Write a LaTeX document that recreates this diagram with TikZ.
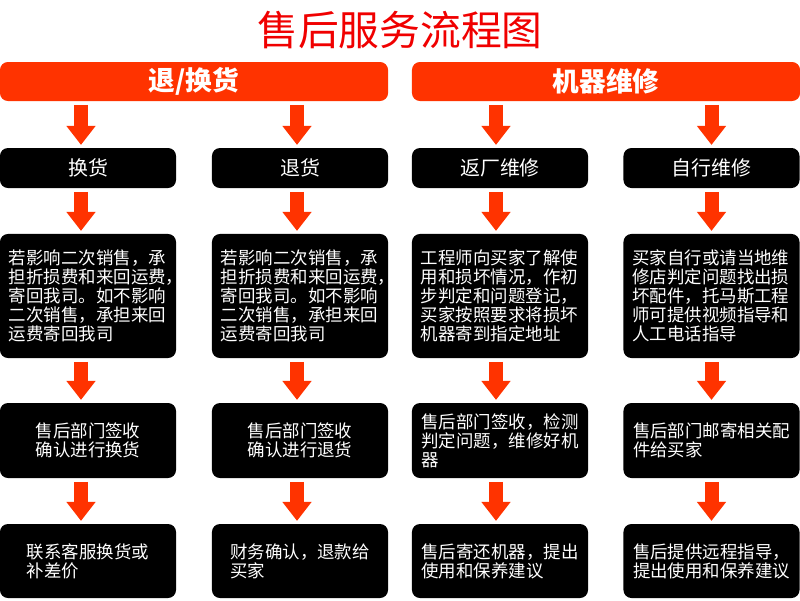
\documentclass[tikz,border=0pt]{standalone}
\usepackage{fontspec}
\setmainfont{Noto Sans CJK SC}
\usepackage{tikz}
\usetikzlibrary{arrows.meta,positioning}
\definecolor{HeadOrange}{HTML}{FF3300}
\definecolor{TitleRed}{HTML}{F00000}

\begin{document}
\begin{tikzpicture}[
  x=0.025cm, y=-0.025cm,
  % category bar (orange, bold white text)
  hdr/.style={fill=HeadOrange, text=white, minimum width=9.7cm,
              minimum height=0.975cm, rounded corners=0.2cm,
              font=\fontsize{19}{21}\selectfont\bfseries},
  % step box (black, white text)
  stepbox/.style={fill=black, text=white, minimum width=4.4cm,
                  align=left, rounded corners=0.2cm, inner sep=2pt,
                  font=\fontsize{12.4}{13.6}\selectfont},
  % long text box (fixed text width, last comma may hang)
  longbox/.style={stepbox, minimum height=3.1cm, text width=3.95cm},
  % thick block arrow
  blk/.style={draw=HeadOrange, line width=0.35cm,
              -{Triangle[width=0.7cm,length=0.475cm]},
              shorten <=0.09cm, shorten >=0.07cm},
]
\useasboundingbox (0,0) rectangle (800,600);

%% ── Column centres and row centres ──────────────────────────────────────
\def\xa{88}  \def\xb{300}  \def\xc{500}  \def\xd{711.5}
\def\yI{168} \def\yII{296} \def\yIII{440.5} \def\yIV{561}

%% ── Title and category bars ──────────────────────────────────────────────
\node[text=TitleRed, font=\fontsize{29}{31}\selectfont] (title) at (400,30) {售后服务流程图};
\node[hdr] (hdrL) at (194,81.5) {退/换货};
\node[hdr] (hdrR) at (606,81.5) {机器维修};

%% ── Row 1 ────────────────────────────────────────────────────────────────
\foreach \n/\x/\t in {a/\xa/换货, b/\xb/退货, c/\xc/返厂维修, d/\xd/自行维修}
  \node[stepbox, minimum height=1cm, font=\fontsize{14.2}{16}\selectfont]
    (\n1) at (\x,\yI) {\t};

%% ── Row 2 ────────────────────────────────────────────────────────────────
\node[longbox] (a2) at (\xa,\yII)
  {若影响二次销售，承\\担折损费和来回运费，\\寄回我司。如不影响\\二次销售，承担来回\\运费寄回我司};
\node[longbox] (b2) at (\xb,\yII)
  {若影响二次销售，承\\担折损费和来回运费，\\寄回我司。如不影响\\二次销售，承担来回\\运费寄回我司};
\node[longbox] (c2) at (\xc,\yII)
  {工程师向买家了解使\\用和损坏情况，作初\\步判定和问题登记，\\买家按照要求将损坏\\机器寄到指定地址};
\node[longbox] (d2) at (\xd,\yII)
  {买家自行或请当地维\\修店判定问题找出损\\坏配件，托马斯工程\\师可提供视频指导和\\人工电话指导};

%% ── Row 3 ────────────────────────────────────────────────────────────────
\node[stepbox, minimum height=1.875cm] (a3) at (\xa,\yIII) {售后部门签收\\确认进行换货};
\node[stepbox, minimum height=1.875cm] (b3) at (\xb,\yIII) {售后部门签收\\确认进行退货};
\node[stepbox, minimum height=1.875cm] (c3) at (\xc,\yIII)
  {售后部门签收，检测\\判定问题，维修好机\\器};
\node[stepbox, minimum height=1.875cm] (d3) at (\xd,\yIII)
  {售后部门邮寄相关配\\件给买家};

%% ── Row 4 ────────────────────────────────────────────────────────────────
\node[stepbox, minimum height=1.85cm] (a4) at (\xa,\yIV) {联系客服换货或\\补差价};
\node[stepbox, minimum height=1.85cm] (b4) at (\xb,\yIV) {财务确认，退款给\\买家};
\node[stepbox, minimum height=1.85cm] (c4) at (\xc,\yIV)
  {售后寄还机器，提出\\使用和保养建议};
\node[stepbox, minimum height=1.85cm] (d4) at (\xd,\yIV)
  {售后提供远程指导，\\提出使用和保养建议};

%% ── Arrows ───────────────────────────────────────────────────────────────
\foreach \h/\n/\dx in {hdrL/a/-0.175cm, hdrL/b/-0.075cm, hdrR/c/-0.1cm, hdrR/d/0cm}
  \draw[blk] ([xshift=\dx]\n1.north |- \h.south) -- ([xshift=\dx]\n1.north);
\foreach \n/\dx in {a/-0.175cm, b/-0.075cm, c/-0.1cm, d/0cm}
  \foreach \i/\j in {1/2, 2/3, 3/4}
    \draw[blk] ([xshift=\dx]\n\i.south) -- ([xshift=\dx]\n\j.north);

\end{tikzpicture}
\end{document}
